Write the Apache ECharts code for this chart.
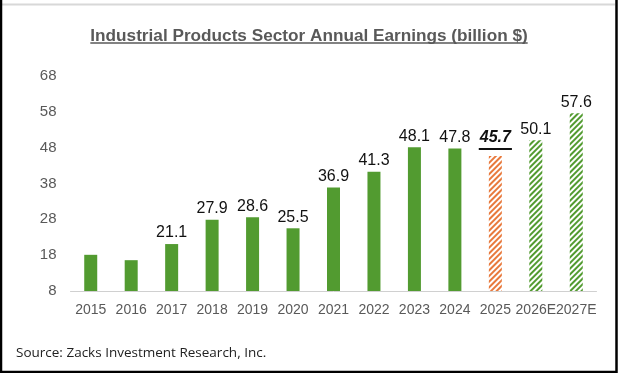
<!DOCTYPE html>
<html><head><meta charset="utf-8">
<script src="https://cdn.jsdelivr.net/npm/echarts@6/dist/echarts.min.js"></script>
<style>html,body{margin:0;padding:0;background:#fff}#c{width:618px;height:373px}</style>
</head><body><div id="c"></div>
<script>
const categories = ['2015','2016','2017','2018','2019','2020','2021','2022','2023','2024','2025','2026E','2027E'];
const earnings = [18.1, 16.6, 21.1, 27.9, 28.6, 25.5, 36.9, 41.3, 48.1, 47.8, 45.7, 50.1, 57.6];
const labelTexts = ['', '', '21.1','27.9','28.6','25.5','36.9','41.3','48.1','47.8','45.7','50.1','57.6'];
const barKind = ['a','a','a','a','a','a','a','a','a','a','current','est','est'];
const yTicks = [8, 18, 28, 38, 48, 58, 68];
const titleText = 'Industrial Products Sector Annual Earnings (billion $)';
const sourceText = 'Source: Zacks Investment Research, Inc.';

const GREEN = '#529B30', ORANGE = '#E8793C';
const titleFont = 'bold 17.2px "Liberation Sans", Arial, sans-serif';
const cv = document.createElement('canvas').getContext('2d');
cv.font = titleFont;
const tw = cv.measureText(titleText).width;
cv.font = 'italic bold 16px "Liberation Sans", Arial, sans-serif';
const lw = cv.measureText('45.7').width;

function hatch(col){
  return {symbol:'rect', symbolSize:1, color:col, dashArrayX:[1,0], dashArrayY:[2,2], rotation:-Math.PI/4};
}
const data = earnings.map((v,i)=>{
  const k = barKind[i];
  const o = {value:v};
  if(k==='a'){ o.itemStyle={color:GREEN}; }
  else { o.itemStyle={color:'#fff', decal:hatch(k==='current'?ORANGE:GREEN)}; }
  if(k==='current'){
    o.label={formatter:'{v|'+labelTexts[i]+'}\n{u|}', distance:5};
  } else {
    o.label={formatter: labelTexts[i]};
  }
  return o;
});

const chart = echarts.init(document.getElementById('c'), null, {renderer:'canvas'});
chart.setOption({
  animation:false,
  backgroundColor:'#fff',
  aria:{enabled:false, decal:{show:false}},
  title:{text:titleText, left:'center', top:23, textStyle:{fontFamily:'"Liberation Sans", Arial, sans-serif', fontWeight:'bold', fontSize:17.2, color:'#595959'}},
  grid:{left:70.5, right:21.5, top:76, bottom:82, containLabel:false},
  xAxis:{type:'category', data:categories, axisLine:{lineStyle:{color:'#d0d0d0', width:1}}, axisTick:{show:false},
    axisLabel:{color:'#595959', fontSize:14, fontFamily:'"Liberation Sans", Arial, sans-serif', margin:12, interval:0}},
  yAxis:{type:'value', min:yTicks[0], max:yTicks[yTicks.length-1], interval:10, splitLine:{show:false}, axisLine:{show:false}, axisTick:{show:false},
    axisLabel:{color:'#595959', fontSize:15, fontFamily:'"Liberation Sans", Arial, sans-serif', margin:14}},
  series:[{type:'bar', data:data, barWidth:13,
    label:{show:true, position:'top', distance:3, color:'#111', fontSize:16, fontFamily:'"Liberation Sans", Arial, sans-serif',
      rich:{v:{fontSize:16, fontStyle:'italic', fontWeight:'bold', color:'#111', fontFamily:'"Liberation Sans", Arial, sans-serif', lineHeight:18},
            u:{width:lw+2, height:2, backgroundColor:'#111', lineHeight:4}}}
  }],
  graphic:[
    {type:'line', shape:{x1:309-tw/2, y1:43, x2:309+tw/2, y2:43}, style:{stroke:'#595959', lineWidth:1.5}},
    {type:'text', left:16, top:346, style:{text:sourceText, fontSize:13.5, fontFamily:'"Open Sans", sans-serif', fill:'#222'}},
    {type:'line', shape:{x1:2, y1:4.5, x2:615, y2:4.5}, style:{stroke:'#d8d8d8', lineWidth:2}},
    {type:'polyline', shape:{points:[[1,0],[1,372],[616.5,372],[616.5,0]]}, style:{stroke:'#000', lineWidth:2.5, fill:null}}
  ]
});
</script></body></html>
